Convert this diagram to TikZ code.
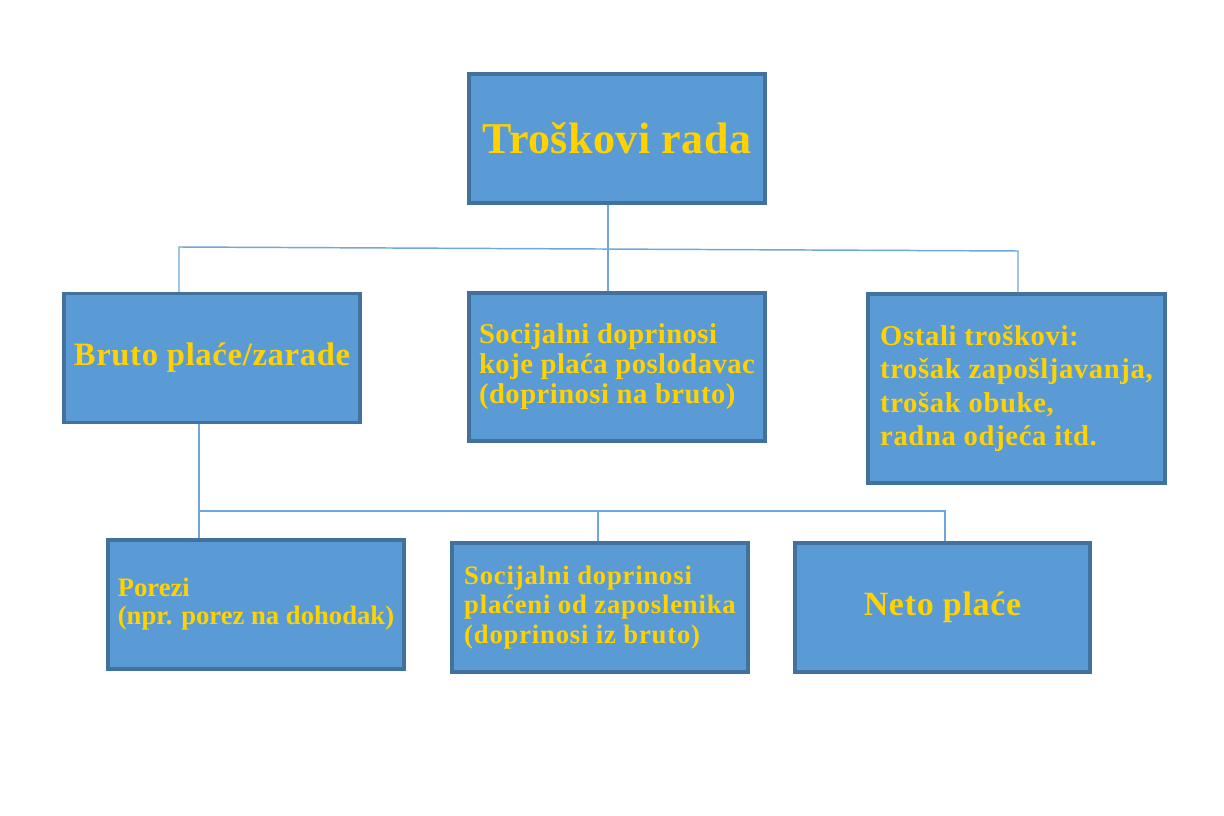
\documentclass[tikz,border=0pt]{standalone}
\usepackage{fontspec}
\setmainfont{Liberation Serif}
\definecolor{boxfill}{HTML}{5B9BD5}
\definecolor{boxborder}{HTML}{41719C}
\definecolor{linecol}{HTML}{6FA6DB}
\definecolor{txtyellow}{HTML}{FFD200}
\newcommand{\ls}[1]{\addfontfeature{LetterSpace=#1}}
\begin{document}
\begin{tikzpicture}[x=0.75pt,y=-0.75pt,
  box/.style={draw=boxborder, line width=2.6pt, fill=boxfill, text=txtyellow,
              align=left, inner sep=0pt, minimum width=222pt, minimum height=96.75pt},
  conn/.style={draw=linecol, line width=1.1pt}]
\useasboundingbox[fill=white] (0,0) rectangle (1224,816);

\node[box, font=\bfseries\fontsize{33}{38}\selectfont\ls{1}] (top) at (617,138.5) {Troškovi rada};
\node[box, font=\bfseries\fontsize{24.5}{28}\selectfont\ls{2}] (bruto) at (212,358) {Bruto plaće/zarade};
\node[box, minimum height=111pt, font=\bfseries\fontsize{21.5}{22.5}\selectfont\ls{1.6}] (mid) at (617,367)
  {Socijalni doprinosi\\koje plaća poslodavac\\(doprinosi na bruto)};
\node[box, minimum width=222.75pt, minimum height=141.75pt, font=\bfseries\fontsize{21.5}{25}\selectfont\ls{2.2}] (right) at (1016.5,388.5)
  {Ostali troškovi:\\trošak zapošljavanja,\\trošak obuke,\\radna odjeća itd.};
\node[box, font=\bfseries\fontsize{20}{21}\selectfont] (bl) at (256,604.5)
  {Porezi\\(npr. porez na dohodak)};
\node[box, font=\bfseries\fontsize{20}{22}\selectfont\ls{3}] (bm) at (600,607.5)
  {Socijalni doprinosi\\plaćeni od zaposlenika\\(doprinosi iz bruto)};
\node[box, minimum width=221.25pt, font=\bfseries\fontsize{25.5}{30}\selectfont\ls{2}] (br) at (942.5,607.5) {Neto plaće};

\coordinate (busL) at (179,247);
\coordinate (busR) at (1018,251);
\coordinate (bus2L) at (199,511);
\coordinate (bus2M) at (598,511);
\coordinate (bus2R) at (945,511);

\draw[conn] ([xshift=-6.75pt]top.south) -- ([xshift=-6.75pt]mid.north);
\draw[conn] ([xshift=-24.75pt]bruto.north) -- (busL) -- (busR) -- ([xshift=1.125pt]right.north);
\draw[conn] ([xshift=-9.75pt]bruto.south) -- ([xshift=-42.75pt]bl.north);
\draw[conn] (bus2L) -- (bus2R) -- ([xshift=1.875pt]br.north);
\draw[conn] (bus2M) -- ([xshift=-1.5pt]bm.north);
\end{tikzpicture}
\end{document}
